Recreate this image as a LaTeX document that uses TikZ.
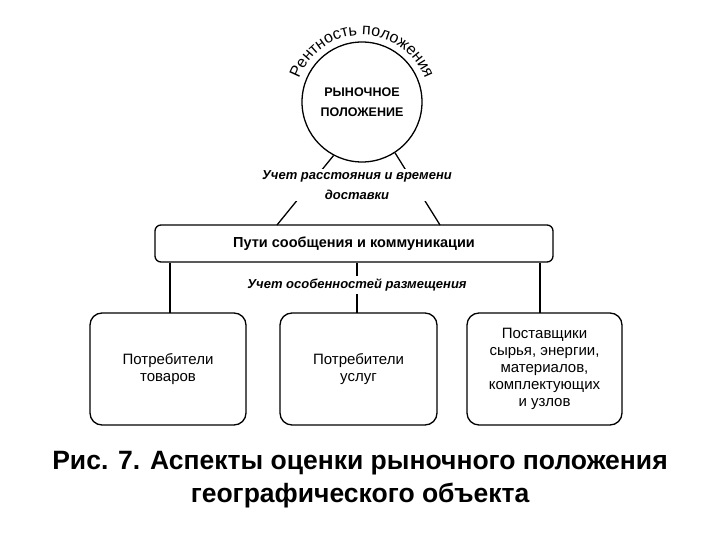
\documentclass[tikz,border=0pt]{standalone}
\usepackage{fontspec}
\setmainfont{Liberation Sans}
\usetikzlibrary{decorations.text}
\begin{document}
\begin{tikzpicture}[x=1pt,y=1pt,line width=1.3pt,
  rbox/.style={draw,rounded corners=12pt,align=center,font=\fontsize{15}{17}\selectfont},
  lbl/.style={font=\bfseries\itshape\fontsize{13}{20}\selectfont,align=center,fill=white,inner sep=1pt}]
\useasboundingbox (0,0) rectangle (720,540);
\node[draw,circle,minimum size=120pt,align=center,font=\bfseries\fontsize{12.5}{20}\selectfont] (c) at (362,438) {РЫНОЧНОЕ\\ПОЛОЖЕНИЕ};
\path[decorate,decoration={text along path,text align=center,text={|\fontsize{16}{16}\selectfont|Рентность положения}}]
  (362,438) ++(165:67) arc[start angle=165,end angle=15,radius=67];
\node[draw,rounded corners=6pt,minimum width=398pt,minimum height=37pt,font=\bfseries\fontsize{14.5}{16}\selectfont] (p) at (354,296.5) {Пути сообщения и коммуникации};
\coordinate (pl) at (277,315);
\coordinate (pr) at (440,315);
\draw (c.-118) -- (pl);
\draw (c.-57) -- (pr);
\node[lbl] (l1) at (357,355) {Учет расстояния и времени\\доставки};
\node[rbox,minimum width=156pt,minimum height=112pt] (b1) at (168,171) {Потребители\\товаров};
\node[rbox,minimum width=157pt,minimum height=112pt] (b2) at (358.5,171) {Потребители\\услуг};
\node[rbox,minimum width=155pt,minimum height=112pt] (b3) at (544.5,171) {Поставщики\\сырья, энергии,\\материалов,\\комплектующих\\и узлов};
\draw (p.south -| 170,0) -- (170,227);
\draw (p.south -| 540,0) -- (540,227);
\draw (p.south -| 357,0) -- (357,227);
\node[lbl,font=\bfseries\itshape\fontsize{13}{15}\selectfont,inner sep=3pt] (l2) at (357,255) {Учет особенностей размещения};
\node[font=\bfseries\fontsize{26.5}{33}\selectfont,align=center] (cap) at (360,60) {Рис. 7. Аспекты оценки рыночного положения\\географического объекта};
\end{tikzpicture}
\end{document}
